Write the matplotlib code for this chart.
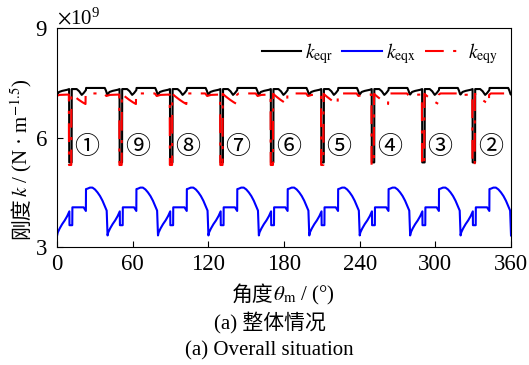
import numpy as np
import matplotlib.pyplot as plt

plt.rcParams['font.family'] = ['Liberation Serif', 'Noto Sans CJK SC']
plt.rcParams['mathtext.fontset'] = 'stix'

SERIF = ['Liberation Serif', 'Noto Sans CJK SC']
CJK = ['Noto Sans CJK SC', 'Liberation Serif']

# one 40 deg period, repeated 9 times over 0-360
period = 40
n_periods = 9

# k_eqr (black), x1e9
r_off = [0, 1.5, 4, 8, 9.5, 9.6, 11.5, 11.6, 15.5, 17.5, 19.5, 21, 22.8, 23, 37.8, 38.8, 39.6, 40]
r_val = [7.18, 7.25, 7.28, 7.31, 7.33, 5.32, 5.32, 7.33, 7.33, 7.27, 7.17, 7.22, 7.30, 7.36, 7.36, 7.28, 7.19, 7.18]

# k_eqx (blue)
x_off = [0, 0.5, 2, 4, 6, 8, 9.7, 9.8, 12.0, 12.1, 21, 22.8, 22.9, 24, 26, 28, 30, 32, 34, 36, 37.5, 39.3, 40]
x_val = [3.32, 3.40, 3.51, 3.63, 3.73, 3.85, 3.98, 3.60, 3.60, 4.09, 4.09, 3.99, 4.59, 4.60, 4.63, 4.63, 4.58, 4.50, 4.40, 4.27, 4.15, 4.00, 3.32]

# k_eqy (red)
y_off = [0, 2, 9.3, 9.4, 11.2, 11.3, 14, 17, 20, 22.5, 22.6, 24, 37.5, 39, 40]
y_val = [7.15, 7.17, 7.18, 5.25, 5.25, 7.20, 7.12, 7.04, 6.97, 6.92, 7.17, 7.21, 7.21, 7.14, 7.15]

labels_circ = ['①', '⑨', '⑧', '⑦', '⑥', '⑤', '④', '③', '②']
circ_off = 23.5
circ_y = 5.75e9

xticks = [0, 60, 120, 180, 240, 300, 360]
yticks = [3e9, 6e9, 9e9]


def build(off, val):
    xs = np.concatenate([np.array(off) + period * k for k in range(n_periods)])
    ys = np.tile(np.array(val) * 1e9, n_periods)
    return xs, ys


fig = plt.figure(figsize=(5.29, 3.65), dpi=100)
ax = fig.add_axes([0.108, 0.323, 0.858, 0.6])

xr, yr = build(r_off, r_val)
xx, yx = build(x_off, x_val)
xy, yy = build(y_off, y_val)

ax.plot(xr, yr, color='black', lw=1.5, label=r'$k_{\rm eqr}$')
ax.plot(xx, yx, color='#0000ff', lw=1.5, label=r'$k_{\rm eqx}$')
ax.plot(xy, yy, color='#ff0000', lw=1.5, ls=(0, (9, 4.5, 1.5, 4.5)), label=r'$k_{\rm eqy}$')

for k, s in enumerate(labels_circ):
    ax.text(period * k + circ_off, circ_y, s, ha='center', va='center',
            fontsize=18, family=CJK)

ax.set_xlim(0, 360)
ax.set_ylim(3e9, 9e9)
ax.set_xticks(xticks)
ax.set_yticks(yticks)
ax.ticklabel_format(axis='y', style='sci', scilimits=(9, 9), useMathText=True)
ax.yaxis.get_offset_text().set_fontsize(15)
ax.tick_params(direction='in', length=4, labelsize=16.5, top=False, right=False)
ax.tick_params(axis='x', pad=5)
ax.tick_params(axis='y', pad=7)

leg = ax.legend(loc='upper right', ncol=3, frameon=False, fontsize=14,
                handlelength=2.05, columnspacing=0.45, handletextpad=0.2,
                borderaxespad=0.25, bbox_to_anchor=(1.0, 1.0))

# y label: CJK part then serif part, stacked upward
t1 = fig.text(0.052, 0.345, '刚度', rotation=90, rotation_mode='anchor',
              ha='left', va='baseline', fontsize=15, family=CJK)
ax.annotate(r'$k$ / (N · m$^{-1.5}$)', xy=(0.052, 1), xycoords=('figure fraction', t1),
            rotation=90, rotation_mode='anchor', ha='left', va='baseline',
            fontsize=15, family=SERIF)

# x label
t2 = fig.text(0.438, 0.177, '角度', ha='left', va='baseline', fontsize=15, family=CJK)
ax.annotate(r'$\theta_{\rm m}$ / (°)', xy=(1, 0.177), xycoords=(t2, 'figure fraction'),
            ha='left', va='baseline', fontsize=15, family=SERIF)

fig.text(0.51, 0.099, '(a) 整体情况', ha='center', va='baseline', fontsize=15, family=SERIF)
fig.text(0.51, 0.027, '(a) Overall situation', ha='center', va='baseline', fontsize=15, family=SERIF)

fig.savefig('out.png', dpi=100)
